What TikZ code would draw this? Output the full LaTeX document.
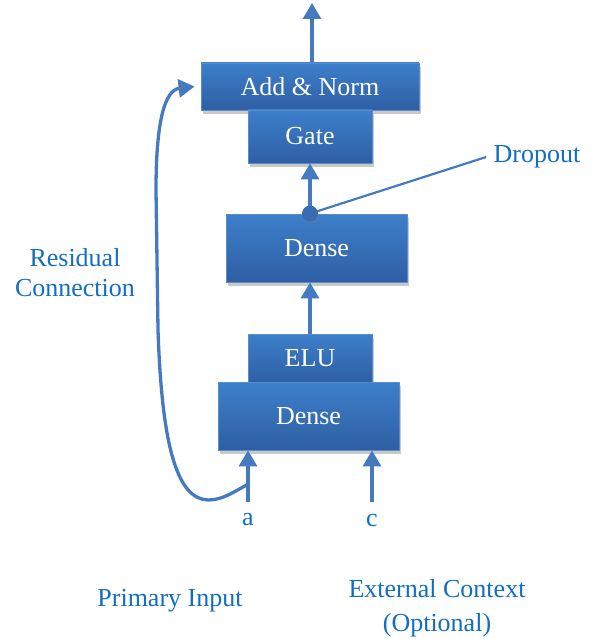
\documentclass[tikz,border=0pt]{standalone}
\usepackage{fontspec}
\setmainfont{Liberation Serif}
\usepackage{tikz}
\usetikzlibrary{arrows.meta,shadows,calc}

\definecolor{boxtop}{RGB}{61,127,203}
\definecolor{boxbottom}{RGB}{46,95,163}
\definecolor{boxedge}{RGB}{88,140,205}
\definecolor{wire}{RGB}{70,122,192}
\definecolor{dotblue}{RGB}{58,108,178}
\definecolor{labelblue}{RGB}{18,110,192}

\tikzset{
	layer/.style={rectangle, draw=boxedge, line width=0.8pt, top color=boxtop, bottom color=boxbottom,
		text=white, font=\fontsize{26}{30}\selectfont, inner sep=0pt,
		drop shadow={shadow xshift=2pt, shadow yshift=-4pt, opacity=0.3, fill=black!70}},
	caption/.style={text=labelblue, font=\fontsize{26}{30}\selectfont, align=center},
	wire/.style={draw=wire, line width=3.3pt, -{Triangle[width=18pt,length=16pt]}},
	thinwire/.style={draw=wire, line width=2.2pt}
}

\begin{document}
	\begin{tikzpicture}[x=1pt,y=-1pt]
		\useasboundingbox (0,0) rectangle (593,639);
		
		\node[layer, minimum width=218pt, minimum height=47pt] (addnorm) at (310,86.5) {Add \& Norm};
		\node[layer, minimum width=124pt, minimum height=53pt] (gate) at (310,136.5) {Gate};
		\node[layer, minimum width=181pt, minimum height=68pt] (dense2) at (316.5,248) {Dense};
		\node[layer, minimum width=124pt, minimum height=48pt] (elu) at (310,358) {ELU};
		\node[layer, minimum width=181pt, minimum height=68pt] (dense1) at (308.5,416) {Dense};
		
		\node[caption] (a) at (248,520) {a};
		\node[caption] (c) at (372,520) {c};
		\node[caption] (dropout) at (537,157) {Dropout};
		\node[caption] (residual) at (75,273) {Residual\\Connection};
		\node[caption] (primary) at (170,601) {Primary Input};
		\node[caption] (context) at (437,608) {External Context\\[4pt](Optional)};
		
		\coordinate (out) at (312,3);
		\coordinate (dot) at (gate.south |- dense2.north);
		\coordinate (join) at ($(a.north)+(0,-26)$);
		
		% main path
		\draw[wire] (addnorm.north -| out) -- (out);
		\draw[wire] (dot) -- (gate.south);
		\draw[wire] (elu.north) -- (elu.north |- dense2.south);
		\draw[wire] ([yshift=8pt]a.north) -- (a.north |- dense1.south);
		\draw[wire] ([yshift=8pt]c.north) -- (c.north |- dense1.south);
		
		% dropout marker
		\draw[thinwire] (dot) -- ([xshift=-4pt]dropout.west);
		\fill[fill=dotblue, drop shadow={shadow xshift=1pt, shadow yshift=-2pt, opacity=0.3}] (dot) circle (8pt);
		
		% residual connection
		\draw[wire] (join) .. controls (232,493) and (222,500) .. (208,500)
			.. controls (178,499) and (162,450) .. (158,330)
			-- (156,190) .. controls (156,120) and (165,90) .. ([xshift=-6pt]addnorm.west);
	\end{tikzpicture}
\end{document}
